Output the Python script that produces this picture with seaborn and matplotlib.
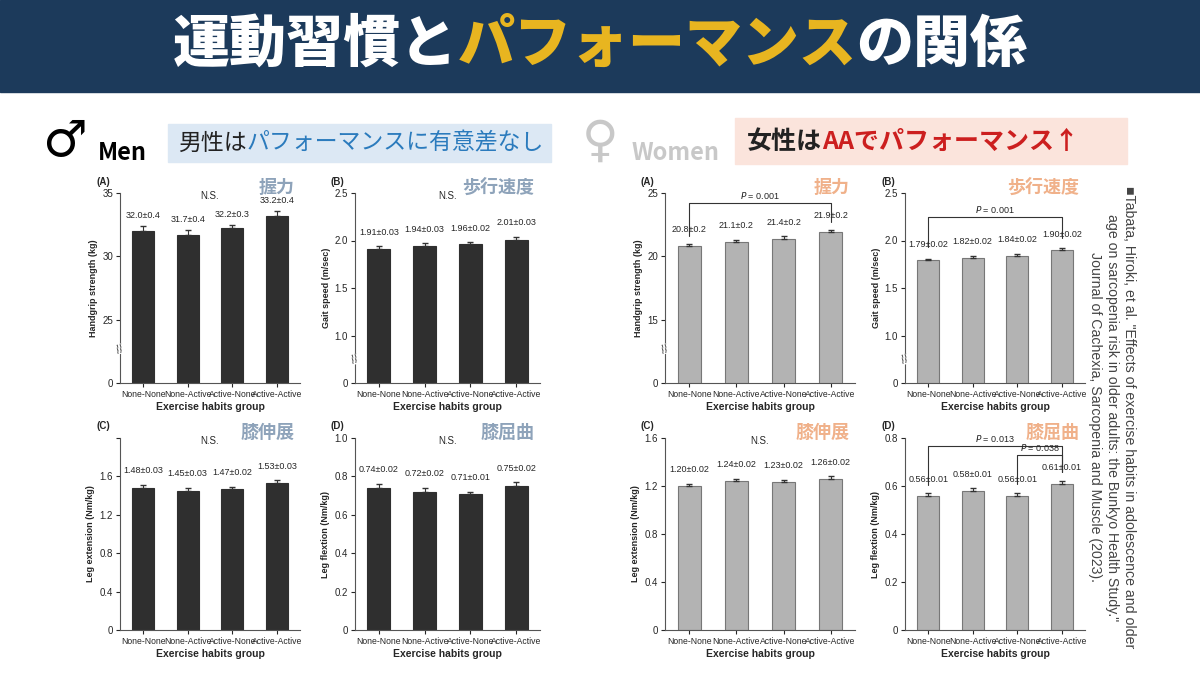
import matplotlib
matplotlib.use("Agg")
import matplotlib.pyplot as plt
import seaborn as sns
import pandas as pd
from matplotlib.patches import Rectangle

sns.set_style("white")
plt.rcParams['font.family'] = ['Noto Sans CJK JP', 'DejaVu Sans']
LS = "Liberation Sans"

groups = ["None-None", "None-Active", "Active-None", "Active-Active"]
men_grip = [32.0, 31.7, 32.2, 33.2]; men_grip_se = [0.4, 0.4, 0.3, 0.4]
men_gait = [1.91, 1.94, 1.96, 2.01]; men_gait_se = [0.03, 0.03, 0.02, 0.03]
men_ext = [1.48, 1.45, 1.47, 1.53]; men_ext_se = [0.03, 0.03, 0.02, 0.03]
men_flex = [0.74, 0.72, 0.71, 0.75]; men_flex_se = [0.02, 0.02, 0.01, 0.02]
wom_grip = [20.8, 21.1, 21.4, 21.9]; wom_grip_se = [0.2, 0.2, 0.2, 0.2]
wom_gait = [1.79, 1.82, 1.84, 1.90]; wom_gait_se = [0.02, 0.02, 0.02, 0.02]
wom_ext = [1.20, 1.24, 1.23, 1.26]; wom_ext_se = [0.02, 0.02, 0.02, 0.02]
wom_flex = [0.56, 0.58, 0.56, 0.61]; wom_flex_se = [0.01, 0.01, 0.01, 0.01]

W, H = 1200, 675
fig = plt.figure(figsize=(12, 6.75), dpi=100)
fig.patch.set_facecolor("white")

def rect(x0, y0, x1, y1):
    return [x0 / W, 1 - y1 / H, (x1 - x0) / W, (y1 - y0) / H]

bg = fig.add_axes([0, 0, 1, 1]); bg.set_xlim(0, W); bg.set_ylim(H, 0); bg.axis("off")
bg.add_patch(Rectangle((0, 0), W, 92, color="#1c3a5b"))
renderer = fig.canvas.get_renderer()

def seq_text(x, y, parts, size, weight="bold", ha="left"):
    arts = []
    cx = x
    for t, c in parts:
        a = bg.text(cx, y, t, color=c, fontsize=size, fontweight=weight, va="center", ha="left")
        bb = a.get_window_extent(renderer)
        cx += bb.width * W / fig.bbox.width
        arts.append(a)
    if ha == "center":
        total = cx - x
        for a in arts:
            a.set_x(a.get_position()[0] - total / 2)
    return cx

seq_text(600, 45, [("運動習慣と", "white"), ("パフォーマンス", "#e8b520"), ("の関係", "white")], 41, weight="heavy", ha="center")

bg.text(42, 142, "♂", fontsize=36, fontweight="bold", color="black", va="center", family="DejaVu Sans")
bg.text(98, 153, "Men", fontsize=17, fontweight="bold", color="black", va="center")
bg.add_patch(Rectangle((168, 124), 383, 38, color="#dce8f4"))
seq_text(178, 143, [("男性は", "#222222"), ("パフォーマンスに有意差なし", "#2b7bbd")], 16.5, weight="normal")
bg.text(582, 142, "♀", fontsize=36, fontweight="bold", color="#c8c8c8", va="center", family="DejaVu Sans")
bg.text(632, 153, "Women", fontsize=17, fontweight="bold", color="#c8c8c8", va="center")
bg.add_patch(Rectangle((735, 118), 392, 46, color="#fbe4dc"))
seq_text(747, 142, [("女性は", "#222222"), ("AAでパフォーマンス↑", "#cc1f1f")], 18, weight="bold")
bg.text(1112, 186, '■Tabata, Hiroki, et al. "Effects of exercise habits in adolescence and older\n'
        'age on sarcopenia risk in older adults: the Bunkyo Health Study."\n'
        'Journal of Cachexia, Sarcopenia and Muscle (2023).',
        rotation=-90, fontsize=10.2, color="#444444", va="top", ha="center", linespacing=1.25,
        family=LS)

def panel(box, vals, ses, ylim, ticks, ticklabels, ylabel, letter, title, tcolor, color, edge,
          fmt, note=None, brk=None, brackets=(), off=0.05):
    ax = fig.add_axes(rect(*box))
    df = pd.DataFrame({"g": groups, "v": vals})
    sns.barplot(data=df, x="g", y="v", ax=ax, color=color, edgecolor=edge, linewidth=0.8,
                width=0.5, errorbar=None, saturation=1)
    ax.errorbar(range(4), vals, yerr=[[0] * 4, ses], fmt="none", ecolor="#333333",
                elinewidth=0.8, capsize=2)
    ax.set_ylim(*ylim); ax.set_yticks(ticks)
    ax.set_yticklabels(ticklabels, fontsize=7, family=LS)
    for t in ax.get_xticklabels():
        t.set_fontfamily(LS); t.set_fontsize(6.2)
    ax.set_xlim(-0.52, 3.52)
    ax.tick_params(axis="x", length=3, direction="out", pad=2)
    ax.tick_params(axis="y", length=3, direction="out", pad=2)
    ax.tick_params(bottom=True, left=True)
    for s in ["top", "right"]:
        ax.spines[s].set_visible(False)
    for s in ["left", "bottom"]:
        ax.spines[s].set_color("#555555"); ax.spines[s].set_linewidth(0.8)
    ax.set_xlabel("Exercise habits group", fontsize=7.5, fontweight="bold", labelpad=2, family=LS)
    ax.set_ylabel(ylabel, fontsize=6.5, fontweight="bold", labelpad=3, family=LS)
    rng = ylim[1] - ylim[0]
    for i, (v, s) in enumerate(zip(vals, ses)):
        ax.text(i, v + s + rng * off, fmt.format(v, s), ha="center", va="bottom", fontsize=6.5,
                family=LS)
    ax.text(-0.13, 1.06, letter, transform=ax.transAxes, fontsize=7, fontweight="bold",
            va="center", family=LS)
    ax.text(0.97, 1.03, title, transform=ax.transAxes, fontsize=13, fontweight="bold",
            color=tcolor, ha="right", va="center")
    if note:
        ax.text(0.5, 0.97, note, transform=ax.transAxes, fontsize=7, ha="center", family=LS)
    if brk is not None:
        ax.text(0, brk, "//", transform=ax.get_yaxis_transform(), fontsize=7, ha="center",
                va="center", rotation=20, family="DejaVu Sans",
                bbox=dict(fc="white", ec="none", pad=0))
    for (i, j, yb, ylv_i, ylv_j, lab) in brackets:
        ax.plot([i, i, j, j], [ylv_i, yb, yb, ylv_j], color="#333333", lw=0.8, clip_on=False)
        ax.text((i + j) / 2, yb + rng * 0.01, lab, ha="center", va="bottom", fontsize=6.5,
                family=LS)
    return ax

mc, me = "#2f2f2f", "#2f2f2f"
wc, we = "#b3b3b3", "#777777"
mt, wt = "#8ea3ba", "#f0b18a"
panel((120, 193, 300, 383), men_grip, men_grip_se, (20, 35), [20, 25, 30, 35], ["0", "25", "30", "35"],
      "Handgrip strength (kg)", "(A)", "握力", mt, mc, me, "{:.1f}±{:.1f}", "N.S.", brk=22.7, off=0.03)
panel((355, 193, 540, 383), men_gait, men_gait_se, (0.5, 2.5), [0.5, 1.0, 1.5, 2.0, 2.5],
      ["0", "1.0", "1.5", "2.0", "2.5"], "Gait speed (m/sec)", "(B)", "歩行速度", mt, mc, me,
      "{:.2f}±{:.2f}", "N.S.", brk=0.75)
panel((120, 438, 300, 630), men_ext, men_ext_se, (0, 2.0), [0, 0.4, 0.8, 1.2, 1.6, 2.0],
      ["0", "0.4", "0.8", "1.2", "1.6", ""], "Leg extension (Nm/kg)", "(C)", "膝伸展", mt, mc, me,
      "{:.2f}±{:.2f}", "N.S.")
panel((355, 438, 540, 630), men_flex, men_flex_se, (0, 1.0), [0, 0.2, 0.4, 0.6, 0.8, 1.0],
      ["0", "0.2", "0.4", "0.6", "0.8", "1.0"], "Leg flextion (Nm/kg)", "(D)", "膝屈曲", mt, mc, me,
      "{:.2f}±{:.2f}", "N.S.")
panel((665, 193, 855, 383), wom_grip, wom_grip_se, (10, 25), [10, 15, 20, 25], ["0", "15", "20", "25"],
      "Handgrip strength (kg)", "(A)", "握力", wt, wc, we, "{:.1f}±{:.1f}", brk=12.7,
      brackets=[(0, 3, 24.2, 21.6, 22.7, "$P$ = 0.001")])
panel((905, 193, 1085, 383), wom_gait, wom_gait_se, (0.5, 2.5), [0.5, 1.0, 1.5, 2.0, 2.5],
      ["0", "1.0", "1.5", "2.0", "2.5"], "Gait speed (m/sec)", "(B)", "歩行速度", wt, wc, we,
      "{:.2f}±{:.2f}", brk=0.75, brackets=[(0, 3, 2.25, 1.93, 2.03, "$P$ = 0.001")])
panel((665, 438, 855, 630), wom_ext, wom_ext_se, (0, 1.6), [0, 0.4, 0.8, 1.2, 1.6],
      ["0", "0.4", "0.8", "1.2", "1.6"], "Leg extension (Nm/kg)", "(C)", "膝伸展", wt, wc, we,
      "{:.2f}±{:.2f}", "N.S.")
panel((905, 438, 1085, 630), wom_flex, wom_flex_se, (0, 0.8), [0, 0.2, 0.4, 0.6, 0.8],
      ["0", "0.2", "0.4", "0.6", "0.8"], "Leg flextion (Nm/kg)", "(D)", "膝屈曲", wt, wc, we,
      "{:.2f}±{:.2f}",
      brackets=[(0, 3, 0.765, 0.605, 0.66, "$P$ = 0.013"), (2, 3, 0.73, 0.61, 0.66, "$P$ = 0.038")])

fig.savefig("out.png", dpi=100, facecolor="white")
